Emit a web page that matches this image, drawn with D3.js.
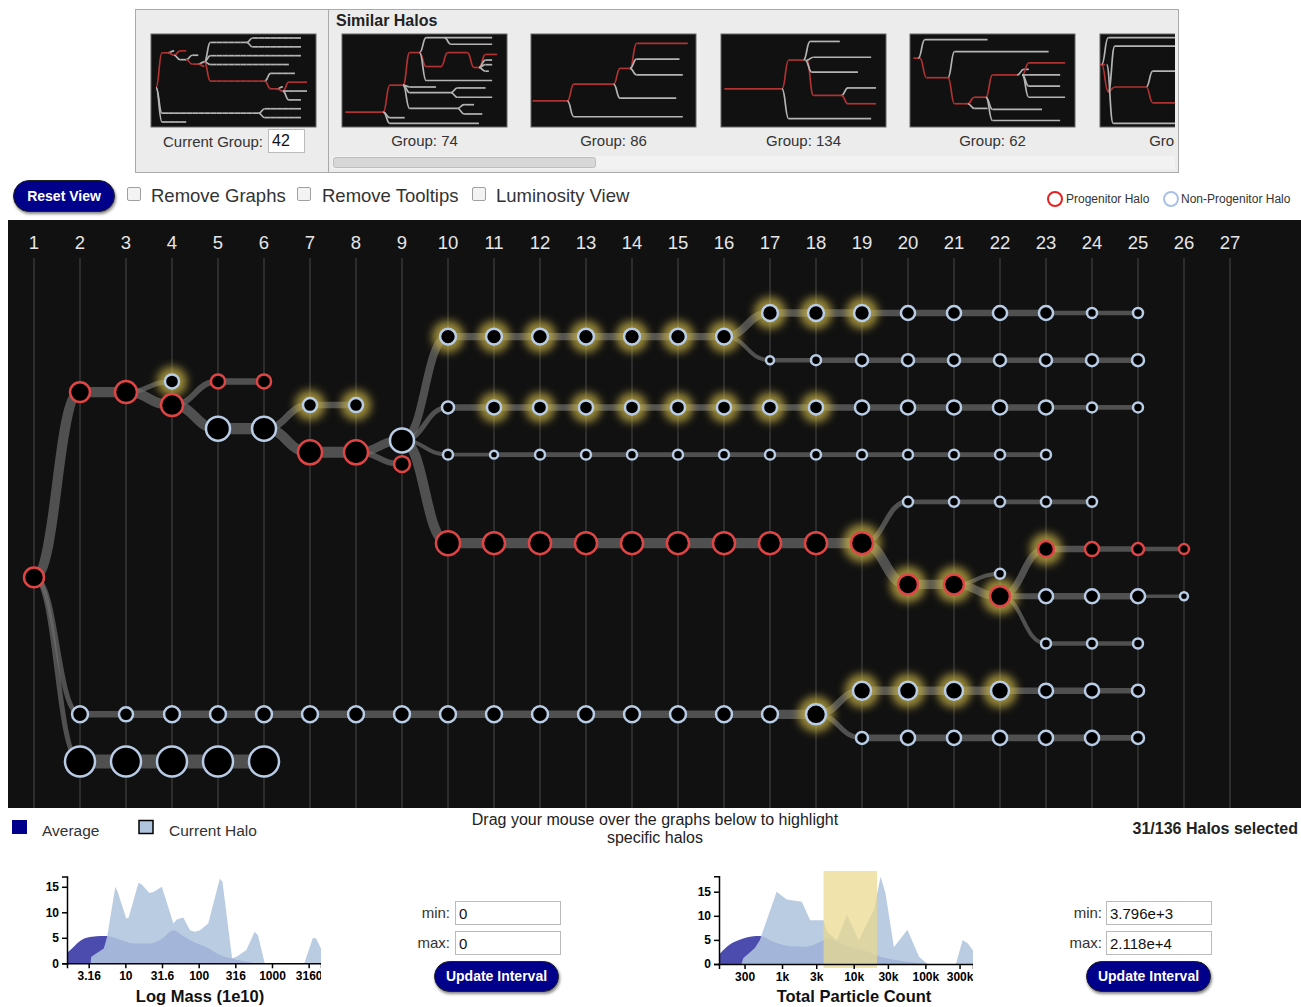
<!DOCTYPE html>
<html lang="en">
<head>
<meta charset="UTF-8">
<script src="https://d3js.org/d3.v7.min.js"></script>
<style>
  body { margin: 0; font-family: Arial, "Liberation Sans", sans-serif; background: #fff; }
  #page { position: relative; width: 1301px; height: 1007px; overflow: hidden; }
  #page svg { position: absolute; left: 0; top: 0; }
  .btn {
    position: absolute; background: #00008b; color: #fff; font-weight: bold; font-size: 14px;
    text-align: center; border: 1px solid #222; border-radius: 17px; box-shadow: 1px 2px 3px #888;
  }
  .chk {
    position: absolute; width: 12px; height: 12px; border: 1px solid #a0a0a0; background: #f3f3f3; border-radius: 2px;
  }
  .lbl { position: absolute; font-size: 18.5px; color: #333; white-space: nowrap; }
  .small { position: absolute; font-size: 15px; color: #333; white-space: nowrap; }
  input.box {
    position: absolute; box-sizing: border-box; height: 24px; border: 1px solid #bbb; font-size: 15px;
    padding: 0 3px; font-family: Arial, "Liberation Sans", sans-serif; color: #111; background: #fff;
  }
</style>
</head>
<body>
<div id="page"></div>
<script>
// ---------------- data ----------------
const stepLabels = [1, 2, 3, 4, 5, 6, 7, 8, 9, 10, 11, 12, 13, 14, 15, 16, 17, 18, 19, 20, 21, 22, 23, 24, 25, 26, 27];

// halo tracks: vertical lane, first time step, mass per step, progenitor flag, highlighted steps
const trackLane  = [11.2, 3.35, 17, 19, 2.9, 3.9, 2.9, 4.9, 3.9, 5.9, 5.4, 6.4, 1, 4, 6, 9.75, 0, 2, 8, 11.5, 11.05, 12, 10, 12, 14, 16, 18];
const trackStart = [1, 2, 2, 2, 4, 4, 5, 5, 7, 7, 9, 9, 10, 10, 10, 10, 17, 17, 20, 20, 22, 22, 23, 23, 23, 19, 19];
const trackProg  = [1, 1, 0, 0, 0, 1, 1, 0, 0, 1, 0, 1, 0, 0, 0, 1, 0, 0, 0, 1, 0, 1, 1, 0, 0, 0, 0];
const trackMass = [
  [44],
  [44, 54],
  [28, 22, 28, 28, 28, 28, 28, 28, 28, 28, 28, 28, 28, 28, 28, 28, 44],
  [100, 100, 100, 100, 100],
  [22],
  [54],
  [22, 22],
  [64, 64],
  [22, 22],
  [64, 64],
  [64],
  [28],
  [28, 28, 28, 28, 28, 28, 28],
  [16, 22, 22, 22, 22, 22, 22, 22, 22, 22, 22, 22, 22, 22, 11, 11],
  [11, 7, 11, 11, 11, 11, 11, 11, 11, 11, 11, 11, 11, 11],
  [64, 54, 54, 54, 54, 54, 54, 54, 54, 54],
  [28, 28, 28, 22, 22, 22, 22, 11, 11],
  [7, 11, 16, 16, 16, 16, 16, 16, 16],
  [11, 11, 11, 11, 11],
  [44, 44],
  [11],
  [44],
  [28, 22, 16, 11],
  [22, 22, 22, 7],
  [11, 11, 11],
  [36, 36, 36, 36, 22, 22, 16],
  [16, 22, 22, 22, 22, 22, 16]
];
const glowSteps = [
  [], [], [18], [], [4], [], [], [], [7, 8], [], [], [],
  [10, 11, 12, 13, 14, 15, 16], [11, 12, 13, 14, 15, 16, 17, 18], [], [19],
  [17, 18, 19], [], [], [20, 21], [], [22], [23], [], [], [19, 20, 21, 22], []
];
// mergers: [parent track, child track, mass flow]
const branches = [
  [0, 1, 51], [0, 2, 13], [0, 3, 13],
  [1, 4, 13], [1, 5, 51],
  [5, 6, 18], [5, 7, 51],
  [7, 8, 25], [7, 9, 51],
  [9, 10, 41], [9, 11, 18],
  [10, 12, 33], [10, 13, 13], [10, 14, 8], [10, 15, 51],
  [12, 16, 33], [12, 17, 8],
  [15, 18, 13], [15, 19, 51],
  [19, 20, 8], [19, 21, 33],
  [21, 22, 25], [21, 23, 18], [21, 24, 8],
  [2, 25, 25], [2, 26, 13]
];

// similar-group thumbnails: [x start, x end, y, progenitor, parent] (fractions of the thumbnail)
const similarGroups = [74, 86, 134, 62, 91];
const group74 = [
  [0.02, 0.25, 0.84, 1, -1], [0.29, 0.37, 0.55, 1, 0], [0.29, 0.83, 0.96, 0, 0], [0.29, 0.38, 0.90, 0, 0],
  [0.41, 0.47, 0.20, 1, 1], [0.41, 0.57, 0.57, 0, 1], [0.41, 0.66, 0.63, 0, 1], [0.41, 0.70, 0.80, 0, 1],
  [0.51, 0.91, 0.04, 0, 4], [0.51, 0.60, 0.35, 1, 4], [0.51, 0.91, 0.50, 0, 4], [0.64, 0.76, 0.20, 1, 9],
  [0.70, 0.87, 0.58, 0, 6], [0.70, 0.91, 0.68, 0, 6], [0.74, 0.80, 0.76, 0, 7], [0.74, 0.85, 0.86, 0, 7],
  [0.80, 0.83, 0.36, 1, 11], [0.87, 0.94, 0.22, 1, 16], [0.87, 0.91, 0.28, 0, 16], [0.87, 0.91, 0.33, 0, 16],
  [0.87, 0.89, 0.40, 0, 16], [0.66, 0.91, 0.11, 0, 8]
];
const group86 = [
  [0.01, 0.22, 0.72, 1, -1], [0.26, 0.50, 0.54, 1, 0], [0.26, 0.92, 0.89, 0, 0], [0.54, 0.60, 0.37, 1, 1],
  [0.54, 0.88, 0.69, 0, 1], [0.64, 0.95, 0.10, 1, 3], [0.64, 0.90, 0.27, 0, 3], [0.64, 0.92, 0.44, 0, 3]
];
const group134 = [
  [0.02, 0.37, 0.59, 1, -1], [0.41, 0.50, 0.28, 1, 0], [0.41, 0.91, 0.91, 0, 0], [0.54, 0.72, 0.08, 0, 1],
  [0.56, 0.73, 0.66, 1, 1], [0.56, 0.91, 0.25, 0, 1], [0.55, 0.83, 0.41, 0, 1], [0.77, 0.94, 0.58, 0, 4],
  [0.77, 0.94, 0.75, 1, 4]
];
const group62 = [
  [0.02, 0.06, 0.26, 1, -1], [0.09, 0.47, 0.06, 0, 0], [0.10, 0.24, 0.47, 1, 0], [0.27, 0.84, 0.19, 0, 2],
  [0.27, 0.36, 0.75, 1, 2], [0.39, 0.47, 0.68, 1, 4], [0.39, 0.47, 0.80, 0, 4], [0.50, 0.66, 0.44, 1, 5],
  [0.50, 0.80, 0.81, 0, 5], [0.50, 0.91, 0.93, 0, 5], [0.69, 0.72, 0.38, 0, 7], [0.72, 0.94, 0.31, 1, 7],
  [0.72, 0.91, 0.44, 0, 7], [0.72, 0.91, 0.56, 0, 7], [0.72, 0.94, 0.68, 0, 7]
];
const group91 = [
  [0.00, 0.03, 0.33, 1, -1], [0.05, 0.60, 0.04, 0, 0], [0.05, 0.06, 0.62, 1, 0], [0.09, 0.60, 0.13, 0, 2],
  [0.09, 0.28, 0.57, 1, 2], [0.08, 0.60, 0.96, 0, 0], [0.32, 0.60, 0.40, 0, 4], [0.32, 0.60, 0.74, 1, 4]
];
const similarTrees = [group74, group86, group134, group62, group91];

// histograms: [value, halo count]
const massAverage = [[1.6, 2], [1.87, 2.9], [2.19, 3.9], [2.7, 4.8], [3.51, 5.2], [4.56, 5.35], [5.62, 5.35], [8.55, 4.6],
  [13, 3.9], [21.9, 3.9], [30, 4.6], [45.6, 6.5], [59.3, 5.5], [85.5, 4.2], [130, 3.1], [198, 1.6], [301, 0.85], [457, 0.3], [625, 0]];
const massCurrent = [[3.35, 0], [3.43, 1.3], [5.08, 2.9], [5.65, 5.2], [7.3, 15], [7.87, 14], [10.3, 8.8], [11.1, 9], [15.1, 15.8],
  [16.9, 15.4], [21.2, 13.8], [24.2, 14], [31.5, 15], [45.2, 7.8], [50.2, 8.6], [61.7, 9], [76.2, 6.5], [89, 6.2], [104, 6.5],
  [135, 7.8], [194, 16.6], [211, 16], [286, 1], [328, 1.3], [447, 2.6], [580, 6.2], [645, 5.5], [795, 0], [2760, 0],
  [3590, 4.9], [3980, 4.9], [4520, 3.3], [5200, 1.5]];
const massTicks = [3.16, 10, 31.6, 100, 316, 1000, 3160];
const massTickLabels = ["3.16", "10", "31.6", "100", "316", "1000", "3160"];

const particleAverage = [[132, 1.9], [167, 3.5], [219, 4.6], [287, 5.3], [376, 5.7], [491, 5.8], [755, 4.6], [1300, 3.7],
  [2220, 3.6], [3410, 4.6], [4240, 5.3], [5850, 4.6], [10000, 3.3], [15400, 2.6], [23700, 1.5], [40600, 0.8], [69500, 0.3], [107000, 0]];
const particleCurrent = [[272, 0], [287, 1.2], [418, 3.3], [491, 5], [841, 15], [1160, 13.4], [1890, 12.9], [2470, 9.1],
  [3800, 9.1], [4240, 6.7], [5850, 5], [8070, 10.2], [11750, 5], [19100, 11.2], [23700, 18.1], [27800, 14.7], [36400, 3.5],
  [56100, 7.1], [81700, 1.5], [107000, 0], [267000, 0], [331000, 5], [389000, 4.3], [473000, 2.6], [520000, 1]];
const particleTicks = [300, 1000, 3000, 10000, 30000, 100000, 300000];
const particleTickLabels = ["300", "1k", "3k", "10k", "30k", "100k", "300k"];
const particleSelection = [3796, 21180];
const countTicks = [0, 5, 10, 15];

// ---------------- page ----------------
const page = d3.select("#page");
const svg = page.append("svg").attr("width", 1301).attr("height", 1007);
const defs = svg.append("defs");
defs.append("filter").attr("id", "glow").attr("x", "-50%").attr("y", "-50%").attr("width", "200%").attr("height", "200%")
  .append("feGaussianBlur").attr("stdDeviation", 4);
defs.append("filter").attr("id", "soft")
  .append("feGaussianBlur").attr("stdDeviation", 0.4);

const RED = "#e04545", BLUE = "#b9cce6";
const THUMB_RED = "#b03030", THUMB_WHITE = "#b4b4b4";

// ---------- top panel ----------
svg.append("rect").attr("x", 135.5).attr("y", 9.5).attr("width", 1043).attr("height", 163)
  .attr("fill", "#ececec").attr("stroke", "#aaa");
svg.append("line").attr("x1", 328.5).attr("x2", 328.5).attr("y1", 9.5).attr("y2", 172.5).attr("stroke", "#aaa");
svg.append("text").attr("x", 336).attr("y", 26).attr("font-size", 16).attr("font-weight", "bold").attr("fill", "#222").text("Similar Halos");

defs.append("clipPath").attr("id", "strip").append("rect").attr("x", 332).attr("y", 20).attr("width", 843).attr("height", 135);

const thumbW = 165, thumbH = 93;
const thumbLink = d3.linkHorizontal().x(d => d[0]).y(d => d[1]);

// current group thumbnail: the same tree, drawn small
const cur = svg.append("g");
cur.append("rect").attr("x", 151).attr("y", 34).attr("width", thumbW).attr("height", thumbH).attr("fill", "#111").attr("stroke", "#666");
const curLines = cur.append("g").attr("filter", "url(#soft)");
const mx = d3.scaleLinear().domain([1, 26]).range([156, 307]);
const my = d3.scaleLinear().domain([0, 19]).range([38, 122]);

const stripG = svg.append("g").attr("clip-path", "url(#strip)");
const thumbX = [342, 531, 721, 910, 1100];
similarTrees.forEach((tree, gi) => {
  const x0 = thumbX[gi], y0 = 34;
  const g = stripG.append("g");
  g.append("rect").attr("x", x0).attr("y", y0).attr("width", thumbW).attr("height", thumbH).attr("fill", "#111").attr("stroke", "#666");
  const lg = g.append("g").attr("filter", "url(#soft)");
  const sx = v => x0 + v * thumbW, sy = v => y0 + v * thumbH;
  tree.forEach(b => {
    const col = b[3] ? THUMB_RED : THUMB_WHITE;
    if (b[4] >= 0) {
      const p = tree[b[4]];
      lg.append("path").attr("d", thumbLink({source: [sx(b[0] - 0.04), sy(p[2])], target: [sx(b[0]), sy(b[2])]}))
        .attr("fill", "none").attr("stroke", col).attr("stroke-width", 1.7);
    }
    lg.append("line").attr("x1", sx(b[0])).attr("x2", sx(b[1])).attr("y1", sy(b[2])).attr("y2", sy(b[2]))
      .attr("stroke", col).attr("stroke-width", 1.7);
  });
  g.append("text").attr("x", x0 + thumbW / 2).attr("y", 146).attr("text-anchor", "middle")
    .attr("font-size", 15).attr("fill", "#333").text("Group: " + similarGroups[gi]);
});
// scrollbar
svg.append("rect").attr("x", 332).attr("y", 156).attr("width", 843).attr("height", 13).attr("fill", "#f2f2f2");
svg.append("rect").attr("x", 333.5).attr("y", 157.5).attr("width", 262).attr("height", 10).attr("rx", 2)
  .attr("fill", "#d7d7d7").attr("stroke", "#bdbdbd");

svg.append("text").attr("x", 163).attr("y", 147).attr("font-size", 15).attr("fill", "#333").text("Current Group:");
page.append("input").attr("class", "box").attr("value", "42")
  .style("left", "268px").style("top", "129px").style("width", "37px").style("font-size", "16px");

// ---------- controls ----------
page.append("div").attr("class", "btn").text("Reset View")
  .style("left", "13px").style("top", "180px").style("width", "100px").style("height", "30px").style("line-height", "30px");
[[127, 151, "Remove Graphs"], [297, 322, "Remove Tooltips"], [472, 496, "Luminosity View"]].forEach(c => {
  page.append("div").attr("class", "chk").style("left", c[0] + "px").style("top", "187px");
  page.append("div").attr("class", "lbl").text(c[2]).style("left", c[1] + "px").style("top", "185px");
});
svg.append("circle").attr("cx", 1055).attr("cy", 199).attr("r", 7).attr("fill", "none").attr("stroke", "#e82020").attr("stroke-width", 2);
svg.append("text").attr("x", 1066).attr("y", 203).attr("font-size", 12).attr("fill", "#333").text("Progenitor Halo");
svg.append("circle").attr("cx", 1171).attr("cy", 199).attr("r", 7).attr("fill", "none").attr("stroke", "#a9c1e6").attr("stroke-width", 2);
svg.append("text").attr("x", 1181).attr("y", 203).attr("font-size", 12).attr("fill", "#333").text("Non-Progenitor Halo");

// ---------- main tree ----------
svg.append("rect").attr("x", 8).attr("y", 220).attr("width", 1293).attr("height", 588).attr("fill", "#111");

const x = d3.scaleLinear().domain([1, 27]).range([34, 1230]);
const y = d3.scaleLinear().domain([0, 19]).range([313, 761.5]);
const r = d3.scaleSqrt().domain([0, 100]).range([0, 15]);
const w = d3.scaleSqrt().domain([0, 100]).range([0, 14]);

svg.append("g").selectAll("line").data(stepLabels).join("line")
  .attr("x1", d => x(d)).attr("x2", d => x(d)).attr("y1", 258).attr("y2", 808)
  .attr("stroke", "#363636").attr("stroke-width", 1.5);
svg.append("g").selectAll("text").data(stepLabels).join("text")
  .attr("x", d => x(d)).attr("y", 249).attr("text-anchor", "middle")
  .attr("font-size", 18.5).attr("fill", "#e6e6e6").text(d => d);

const nodes = [];
trackLane.forEach((lane, t) => {
  trackMass[t].forEach((m, i) => {
    const step = trackStart[t] + i;
    nodes.push({t, step, lane, mass: m, prog: trackProg[t], glow: glowSteps[t].includes(step)});
  });
});
const ofTrack = t => nodes.filter(n => n.t === t);
const links = [];
trackLane.forEach((lane, t) => {
  const ns = ofTrack(t);
  for (let i = 1; i < ns.length; i++) links.push({source: ns[i - 1], target: ns[i], flow: ns[i].mass});
});
branches.forEach(([p, c, f]) => {
  const ps = ofTrack(p);
  links.push({source: ps[ps.length - 1], target: ofTrack(c)[0], flow: f});
});

const link = d3.linkHorizontal().x(n => x(n.step)).y(n => y(n.lane));
svg.append("g").selectAll("path").data(links).join("path")
  .attr("d", link).attr("fill", "none").attr("stroke", "#6e6e6e").attr("stroke-opacity", 0.68)
  .attr("stroke-width", d => w(d.flow));

svg.append("g").selectAll("circle").data(nodes.filter(n => n.glow)).join("circle")
  .attr("cx", n => x(n.step)).attr("cy", n => y(n.lane)).attr("r", n => r(n.mass) + 8)
  .attr("fill", "#cdb84a").attr("opacity", 0.72).attr("filter", "url(#glow)");

svg.append("g").selectAll("circle").data(nodes).join("circle")
  .attr("cx", n => x(n.step)).attr("cy", n => y(n.lane)).attr("r", n => r(n.mass))
  .attr("fill", "#000").attr("stroke", n => n.prog ? RED : BLUE).attr("stroke-width", 2.5);

// same tree in the current-group thumbnail
const miniLink = d3.linkHorizontal().x(n => mx(n.step)).y(n => my(n.lane));
curLines.selectAll("path").data(links).join("path")
  .attr("d", miniLink).attr("fill", "none")
  .attr("stroke", d => d.target.prog ? THUMB_RED : THUMB_WHITE).attr("stroke-width", 1.7);

// ---------- legend / info ----------
svg.append("rect").attr("x", 12).attr("y", 820).attr("width", 15).attr("height", 14).attr("fill", "#00008b");
svg.append("text").attr("x", 42).attr("y", 836).attr("font-size", 15.5).attr("fill", "#333").text("Average");
svg.append("rect").attr("x", 139).attr("y", 820.5).attr("width", 14).attr("height", 13).attr("fill", "#b0c4de").attr("stroke", "#000").attr("stroke-width", 1.5);
svg.append("text").attr("x", 169).attr("y", 836).attr("font-size", 15.5).attr("fill", "#333").text("Current Halo");
svg.append("text").attr("x", 655).attr("y", 825).attr("text-anchor", "middle").attr("font-size", 16).attr("fill", "#222")
  .text("Drag your mouse over the graphs below to highlight");
svg.append("text").attr("x", 655).attr("y", 843).attr("text-anchor", "middle").attr("font-size", 16).attr("fill", "#222")
  .text("specific halos");
svg.append("text").attr("x", 1298).attr("y", 834).attr("text-anchor", "end").attr("font-size", 16).attr("font-weight", "bold").attr("fill", "#222")
  .text("31/136 Halos selected");

// ---------- histograms ----------
function histogram(opt) {
  const clipId = "clip" + opt.id;
  defs.append("clipPath").attr("id", clipId).append("rect")
    .attr("x", opt.x0 - 60).attr("y", 860).attr("width", opt.x1 - opt.x0 + 60).attr("height", 147);
  const g = svg.append("g").attr("clip-path", `url(#${clipId})`);
  const hx = d3.scaleLog().domain(opt.domain).range([opt.x0, opt.x1]);
  const hy = d3.scaleLinear().domain([0, opt.yMax]).range([opt.yBase, opt.yTop]);
  const area = d3.area().x(d => hx(d[0])).y0(hy(0)).y1(d => hy(d[1]));
  g.append("path").attr("d", area.curve(d3.curveMonotoneX)(opt.average)).attr("fill", "#00008b").attr("fill-opacity", 0.7);
  g.append("path").attr("d", area.curve(d3.curveLinear)(opt.current)).attr("fill", "#b0c4de").attr("fill-opacity", 0.87);
  if (opt.selection) {
    g.append("rect").attr("x", hx(opt.selection[0])).attr("y", 871)
      .attr("width", hx(opt.selection[1]) - hx(opt.selection[0])).attr("height", 97)
      .attr("fill", "#ead98c").attr("fill-opacity", 0.72);
  }
  const ax = g.append("g").attr("transform", `translate(0,${opt.yBase})`)
    .call(d3.axisBottom(hx).tickValues(opt.ticks).tickFormat((d, i) => opt.tickLabels[i]).tickSize(5).tickSizeOuter(5));
  const ay = g.append("g").attr("transform", `translate(${opt.x0},0)`)
    .call(d3.axisLeft(hy).tickValues(countTicks).tickSize(5).tickSizeOuter(5));
  [ax, ay].forEach(a => {
    a.selectAll("path, line").attr("stroke", "#000").attr("stroke-width", 1.5);
    a.selectAll("text").attr("font-size", 12).attr("font-weight", "bold").attr("fill", "#000")
      .attr("font-family", "Arial, 'Liberation Sans', sans-serif");
  });
  svg.append("text").attr("x", opt.labelX).attr("y", 1002).attr("text-anchor", "middle")
    .attr("font-size", 16.5).attr("font-weight", "bold").attr("fill", "#111").text(opt.label);
}
histogram({id: "m", x0: 67, x1: 321, domain: [1.6, 4660], yMax: 17, yBase: 963.3, yTop: 876.6,
  average: massAverage, current: massCurrent, ticks: massTicks, tickLabels: massTickLabels,
  label: "Log Mass (1e10)", labelX: 200});
histogram({id: "p", x0: 719, x1: 973, domain: [132, 462000], yMax: 18.2, yBase: 964, yTop: 876.3,
  average: particleAverage, current: particleCurrent, ticks: particleTicks, tickLabels: particleTickLabels,
  selection: particleSelection, label: "Total Particle Count", labelX: 854});

// interval inputs
function interval(lx, bx, btnX, minV, maxV) {
  page.append("div").attr("class", "small").text("min:").style("left", (lx - 40) + "px").style("width", "38px")
    .style("text-align", "right").style("top", "904px");
  page.append("div").attr("class", "small").text("max:").style("left", (lx - 40) + "px").style("width", "38px")
    .style("text-align", "right").style("top", "934px");
  page.append("input").attr("class", "box").attr("value", minV).style("left", bx + "px").style("top", "901px").style("width", "106px");
  page.append("input").attr("class", "box").attr("value", maxV).style("left", bx + "px").style("top", "931px").style("width", "106px");
  page.append("div").attr("class", "btn").text("Update Interval")
    .style("left", btnX + "px").style("top", "961px").style("width", "123px").style("height", "29px").style("line-height", "29px");
}
interval(452, 455, 434, "0", "0");
interval(1104, 1106, 1086, "3.796e+3", "2.118e+4");
</script>
</body>
</html>
